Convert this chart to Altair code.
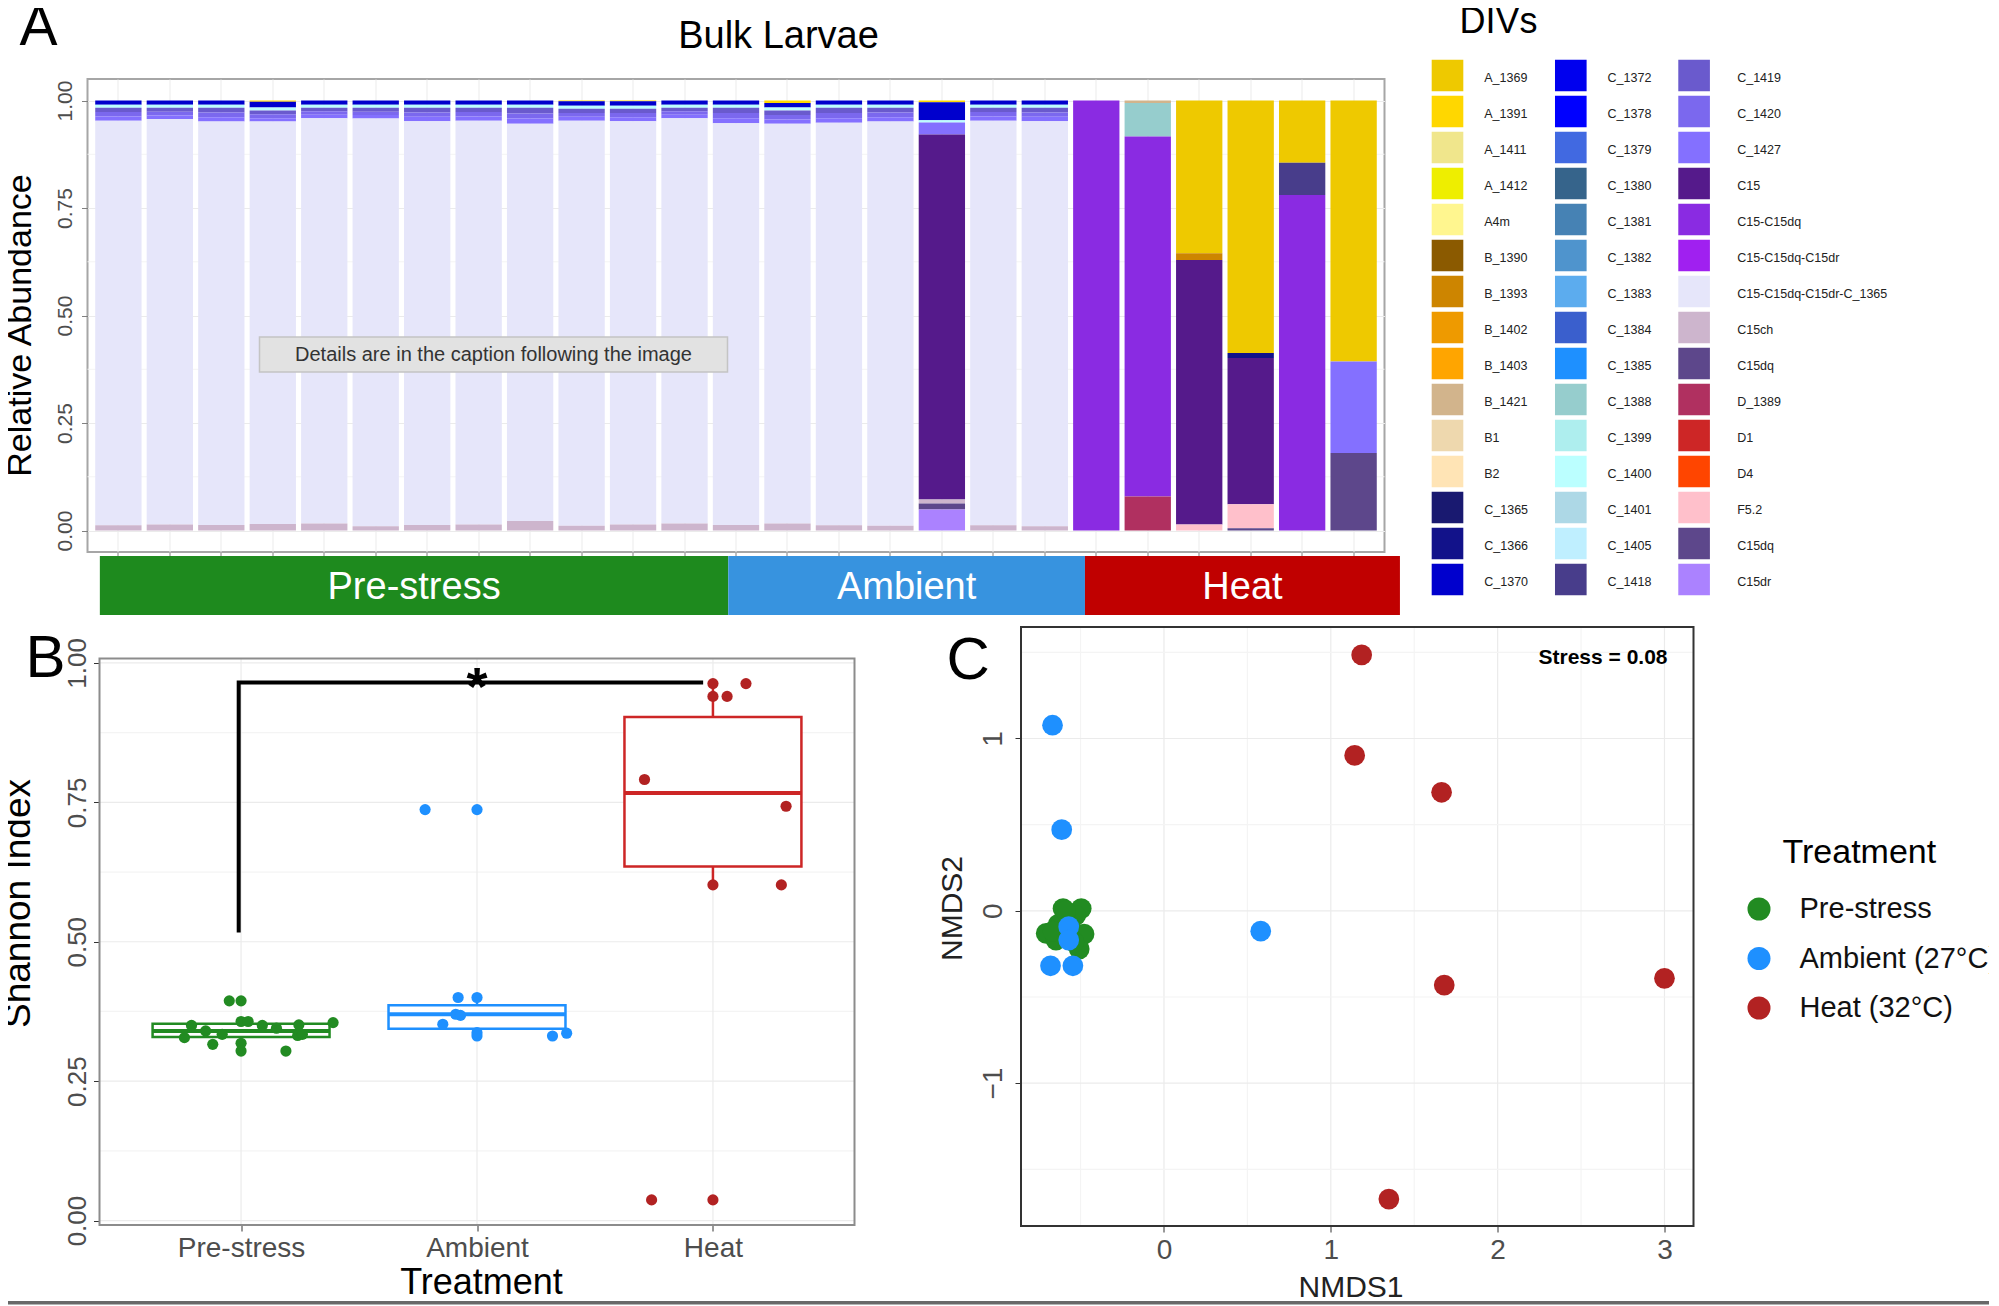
import altair as alt
import pandas as pd

FONT = "Liberation Sans"
GRID = "#EBEBEB"
MINOR = "#F4F4F4"
LABEL_GRAY = "#4D4D4D"

# ---------------- Panel A : DIV relative abundance, 25 bulk larvae samples ----------------
sample_ids = list(range(1, 26))

div_names = ["A_1369", "A_1391", "A_1411", "A_1412", "A4m", "B_1390", "B_1393", "B_1402", "B_1403",
             "B_1421", "B1", "B2", "C_1365", "C_1366", "C_1370",
             "C_1372", "C_1378", "C_1379", "C_1380", "C_1381", "C_1382", "C_1383", "C_1384", "C_1385",
             "C_1388", "C_1399", "C_1400", "C_1401", "C_1405", "C_1418",
             "C_1419", "C_1420", "C_1427", "C15", "C15-C15dq", "C15-C15dq-C15dr", "C15-C15dq-C15dr-C_1365",
             "C15ch", "C15dq", "D_1389", "D1", "D4", "F5.2", "C15dq", "C15dr"]
div_colors = ["#EEC900", "#FFD700", "#F0E68C", "#EEEE00", "#FFF68F", "#8B5A00", "#CD8500", "#EE9A00", "#FFA500",
              "#D2B48C", "#EED8AE", "#FFE4B5", "#191970", "#12128A", "#0000CD",
              "#0000EE", "#0000FF", "#4169E1", "#36648B", "#4682B4", "#4F94CD", "#5CACEE", "#3A5FCD", "#1E90FF",
              "#96CDCD", "#AEEEEE", "#BBFFFF", "#ADD8E6", "#BFEFFF", "#483D8B",
              "#6A5ACD", "#7B68EE", "#8470FF", "#551A8B", "#8A2BE2", "#A020F0", "#E6E6FA",
              "#CDB5CD", "#5D478B", "#B03060", "#CD2626", "#FF4500", "#FFC0CB", "#5D478B", "#AB82FF"]

A_1369 = [0, 0, 0, 0, 0, 0, 0, 0, 0, 0, 0, 0, 0, 0, 0, 0, 0, 0, 0, 0, 0, 0.355, 0.587, 0.145, 0.607]
A_1391 = [0, 0, 0, 0.003, 0, 0, 0, 0, 0, 0.002, 0.002, 0, 0, 0.006, 0, 0, 0.004, 0, 0, 0, 0, 0, 0, 0, 0]
B_1393 = [0, 0, 0, 0, 0, 0, 0, 0, 0, 0, 0, 0, 0, 0, 0, 0, 0, 0, 0, 0, 0, 0.016, 0, 0, 0]
B_1421 = [0, 0, 0, 0, 0, 0, 0, 0, 0, 0, 0, 0, 0, 0, 0, 0, 0, 0, 0, 0, 0.006, 0, 0, 0, 0]
C_1366 = [0, 0, 0, 0, 0, 0, 0, 0, 0, 0, 0, 0, 0, 0, 0, 0, 0, 0, 0, 0, 0, 0, 0.012, 0, 0]
C_1370 = [0.010, 0.010, 0.010, 0.013, 0.010, 0.010, 0.010, 0.010, 0.010, 0.010, 0.010, 0.010, 0.010,
          0.010, 0.010, 0.010, 0.042, 0.010, 0.010, 0, 0, 0, 0, 0, 0]
C_1388 = [0, 0, 0, 0, 0, 0, 0, 0, 0, 0, 0, 0, 0, 0, 0, 0, 0, 0, 0, 0, 0.078, 0, 0, 0, 0]
C_1400 = [0.007, 0.007, 0.007, 0.007, 0.007, 0.007, 0.007, 0.007, 0.007, 0.007, 0.007, 0.007, 0.007,
          0.007, 0.007, 0.007, 0.005, 0.007, 0.007, 0, 0, 0, 0, 0, 0]
C_1418 = [0, 0, 0, 0, 0, 0, 0, 0, 0, 0, 0, 0, 0, 0, 0, 0, 0, 0, 0, 0, 0, 0, 0, 0.075, 0]
C_1419 = [0.010, 0.009, 0.011, 0.009, 0.008, 0.009, 0.011, 0.010, 0.013, 0.010, 0.010, 0.008, 0.012,
          0.011, 0.012, 0.011, 0, 0.010, 0.011, 0, 0, 0, 0, 0, 0]
C_1420 = [0.010, 0.009, 0.011, 0.009, 0.008, 0.008, 0.010, 0.010, 0.012, 0.009, 0.010, 0.008, 0.012,
          0.010, 0.012, 0.011, 0, 0.010, 0.010, 0, 0, 0, 0, 0, 0]
C_1427 = [0.010, 0.008, 0.010, 0.008, 0.008, 0.008, 0.010, 0.010, 0.012, 0.009, 0.009, 0.008, 0.012,
          0.010, 0.011, 0.010, 0.028, 0.010, 0.010, 0, 0, 0, 0, 0, 0.213]
C15 = [0, 0, 0, 0, 0, 0, 0, 0, 0, 0, 0, 0, 0, 0, 0, 0, 0.849, 0, 0, 0, 0, 0.615, 0.340, 0, 0]
C15_C15dq = [0, 0, 0, 0, 0, 0, 0, 0, 0, 0, 0, 0, 0, 0, 0, 0, 0, 0, 0, 1.0, 0.837, 0, 0, 0.780, 0]
C15_C15dq_C15dr_C_1365 = [0.941, 0.943, 0.938, 0.936, 0.943, 0.948, 0.939, 0.939, 0.924, 0.942, 0.938,
                          0.943, 0.934, 0.930, 0.936, 0.940, 0, 0.941, 0.942, 0, 0, 0, 0, 0, 0]
C15ch = [0.012, 0.014, 0.013, 0.015, 0.016, 0.010, 0.013, 0.014, 0.022, 0.011, 0.014, 0.016, 0.013,
         0.016, 0.012, 0.011, 0.009, 0.012, 0.010, 0, 0, 0, 0, 0, 0]
C15dq = [0, 0, 0, 0, 0, 0, 0, 0, 0, 0, 0, 0, 0, 0, 0, 0, 0.014, 0, 0, 0, 0, 0, 0, 0, 0.180]
D_1389 = [0, 0, 0, 0, 0, 0, 0, 0, 0, 0, 0, 0, 0, 0, 0, 0, 0, 0, 0, 0, 0.079, 0, 0, 0, 0]
F5_2 = [0, 0, 0, 0, 0, 0, 0, 0, 0, 0, 0, 0, 0, 0, 0, 0, 0, 0, 0, 0, 0, 0.014, 0.056, 0, 0]
C15dq_2 = [0, 0, 0, 0, 0, 0, 0, 0, 0, 0, 0, 0, 0, 0, 0, 0, 0, 0, 0, 0, 0, 0, 0.005, 0, 0]
C15dr = [0, 0, 0, 0, 0, 0, 0, 0, 0, 0, 0, 0, 0, 0, 0, 0, 0.049, 0, 0, 0, 0, 0, 0, 0, 0]

# (legend index, values)
series = [(0, A_1369), (1, A_1391), (6, B_1393), (9, B_1421), (13, C_1366), (14, C_1370), (24, C_1388),
          (26, C_1400), (29, C_1418), (30, C_1419), (31, C_1420), (32, C_1427), (33, C15), (34, C15_C15dq),
          (36, C15_C15dq_C15dr_C_1365), (37, C15ch), (38, C15dq), (39, D_1389), (42, F5_2), (43, C15dq_2),
          (44, C15dr)]

treat_band = ["Pre-stress", "Ambient", "Heat"]
band_start = [0.64, 12.85, 19.78]
band_end = [12.85, 19.78, 25.9]
band_colors = ["#1E8A1E", "#3793DF", "#C00000"]

# ---------------- Panel B : Shannon index ----------------
shannon_groups = ["Pre-stress", "Ambient", "Heat"]
pre_x = [0.95, 1.00, 0.79, 1.09, 1.245, 1.39, 1.00, 1.03, 0.92, 0.76, 1.24, 1.26, 0.88, 1.00, 1.00, 1.19, 1.15, 0.85]
pre_y = [0.394, 0.394, 0.350, 0.350, 0.351, 0.355, 0.357, 0.357, 0.334, 0.328, 0.332, 0.334, 0.316, 0.318,
         0.304, 0.304, 0.345, 0.340]
amb_x = [1.78, 2.00, 1.92, 2.00, 1.855, 1.91, 1.93, 2.00, 2.00, 2.32, 2.38]
amb_y = [0.737, 0.737, 0.400, 0.400, 0.352, 0.370, 0.368, 0.331, 0.337, 0.331, 0.336]
heat_x = [3.00, 3.14, 3.00, 3.06, 2.71, 3.31, 3.00, 3.29, 2.74, 3.00]
heat_y = [0.963, 0.963, 0.940, 0.940, 0.791, 0.743, 0.602, 0.602, 0.037, 0.037]
box_pos = [1, 2, 3]
box_lo = [0.316, 0.331, 0.602]
box_q1 = [0.329, 0.344, 0.635]
box_med = [0.340, 0.370, 0.767]
box_q3 = [0.353, 0.386, 0.903]
box_hi = [0.357, 0.400, 0.963]
box_colors = ["#228B22", "#1E90FF", "#CD2626"]
pt_colors_b = ["#228B22", "#1E90FF", "#B22222"]
bracket_x = [0.99, 0.99, 2.95]
bracket_y = [0.52, 0.965, 0.965]
b_xlim = [0.4, 3.6]
b_ylim = [-0.008, 1.008]
b_yticks = [0, 0.25, 0.5, 0.75, 1.0]
b_yminor = [0.125, 0.375, 0.625, 0.875]

# ---------------- Panel C : NMDS ----------------
nmds_groups = ["Pre-stress", "Ambient (27°C)", "Heat (32°C)"]
nmds_colors = ["#228B22", "#1E90FF", "#B22222"]
pre_n1 = [-0.605, -0.496, -0.706, -0.647, -0.479, -0.508, -0.571, -0.634, -0.529, -0.665, -0.540, -0.590]
pre_n2 = [0.013, 0.013, -0.131, -0.170, -0.135, -0.222, -0.040, -0.078, -0.027, -0.118, -0.180, 0.000]
amb_n1 = [-0.668, -0.613, 0.580, -0.680, -0.546, -0.571, -0.571]
amb_n2 = [1.077, 0.471, -0.118, -0.319, -0.319, -0.092, -0.170]
heat_n1 = [1.185, 1.143, 1.664, 1.680, 3.000, 1.348]
heat_n2 = [1.485, 0.902, 0.688, -0.431, -0.392, -1.673]
c_xlim = [-0.857, 3.174]
c_ylim = [-1.829, 1.647]
c_xticks = [0, 1, 2, 3]
c_xminor = [-0.5, 0.5, 1.5, 2.5]
c_yticks = [-1, 0, 1]
c_yminor = [-1.5, -0.5, 0.5, 1.5]

one = pd.DataFrame({"k": [0]})


def label(text, x, y, size, weight="normal", align="left", baseline="alphabetic", color="black"):
    return alt.Chart(one).mark_text(text=text, fontSize=size, fontWeight=weight, align=align,
                                    baseline=baseline, color=color, font=FONT).encode(
        x=alt.value(x), y=alt.value(y))


# layout helpers: a linear scale over `total` px on which value v0 falls at pixel p0 (ppu px per unit)
def dom_from_left(v0, p0, ppu, total):
    d0 = v0 - p0 / ppu
    return [d0, d0 + total / ppu]


def dom_from_top(v0, p0, ppu, total):
    d0 = v0 - (total - p0) / ppu
    return [d0, d0 + total / ppu]


def lin(domain, reverse=False):
    if reverse:
        return alt.Scale(domain=domain, nice=False, zero=False, reverse=True)
    return alt.Scale(domain=domain, nice=False, zero=False)


# ================= ROW 1 : panel A + DIV legend (plot area 1297 x 473) =================
A_W, A_H = 1297, 473
rowsA = []
for idx, vals in series:
    for s, v in zip(sample_ids, vals):
        if v > 0:
            rowsA.append({"sample": s, "div": div_names[idx], "value": v, "idx": idx})
dfA = pd.DataFrame(rowsA)

dom, rng = [], []
for n, c in zip(div_names, div_colors):
    if n not in dom:
        dom.append(n)
        rng.append(c)

yA_scale = lin([-0.05, 1.05])
yA_axis = alt.Axis(values=[0, 0.25, 0.5, 0.75, 1.0], format=".2f", labelAngle=270, labelAlign="center",
                   labelBaseline="bottom", labelFontSize=21, labelColor=LABEL_GRAY, labelPadding=6,
                   labelFlush=False, tickSize=6, tickColor="#808080", domain=False, grid=True,
                   gridColor=GRID, title="Relative Abundance", titleFontSize=34, titleFontWeight="normal",
                   titleColor="black", titleBaseline="alphabetic", titleX=-57, titleY=246, orient="left")

minorA = alt.Chart(pd.DataFrame({"value": [0.125, 0.375, 0.625, 0.875]})).mark_rule(
    color=MINOR, strokeWidth=1).encode(y=alt.Y("value:Q", scale=yA_scale, axis=None))

barsA = alt.Chart(dfA).mark_bar(strokeWidth=0).encode(
    x=alt.X("sample:O", scale=alt.Scale(paddingInner=0.1, paddingOuter=0.15),
            axis=alt.Axis(labels=False, title=None, ticks=True, tickSize=6, tickColor="#808080",
                          domain=False, grid=True, gridColor=GRID, orient="bottom")),
    y=alt.Y("value:Q", stack="zero", scale=yA_scale, axis=yA_axis),
    color=alt.Color("div:N", scale=alt.Scale(domain=dom, range=rng), legend=None),
    order=alt.Order("idx:Q", sort="descending"),
)

dfBand = pd.DataFrame({"label": treat_band, "start": band_start, "end": band_end, "color": band_colors})
bandScale = lin([0.4, 25.6])
bandRect = alt.Chart(dfBand).mark_rect().encode(
    x=alt.X("start:Q", scale=bandScale, axis=None), x2="end:Q",
    y=alt.value(477), y2=alt.value(536),
    color=alt.Color("color:N", scale=None))
bandText = alt.Chart(dfBand).transform_calculate(mid="(datum.start + datum.end) / 2").mark_text(
    color="white", fontSize=38, baseline="middle", font=FONT).encode(
    x=alt.X("mid:Q", scale=bandScale, axis=None), y=alt.value(509), text="label:N")

tipBox = alt.Chart(one).mark_rect(fill="#E2E2E2", stroke="#C4C4C4", strokeWidth=1.5).encode(
    x=alt.value(172), x2=alt.value(640), y=alt.value(258), y2=alt.value(293))
tipText = label("Details are in the caption following the image", 406, 276, 20, align="center",
                baseline="middle", color="#333333")

# DIV legend, placed to the right of panel A
dfLeg = pd.DataFrame({"name": div_names, "color": div_colors})
dfLeg["col"] = [i // 15 for i in range(len(div_names))]
dfLeg["row"] = [i % 15 for i in range(len(div_names))]
legXscale = lin(dom_from_left(0, 1344, 123.3, A_W))
legY = alt.Y("row:Q", scale=lin(dom_from_left(0, -3.5, 36, A_H), reverse=True), axis=None)
legSq = alt.Chart(dfLeg).mark_square(size=1000, opacity=1, xOffset=16).encode(
    x=alt.X("col:Q", scale=legXscale, axis=None), y=legY, color=alt.Color("color:N", scale=None))
legTx = alt.Chart(dfLeg).transform_calculate(
    lx="datum.col + (datum.col == 2 ? 0.479 : 0.428)").mark_text(
    align="left", baseline="middle", dy=2, fontSize=12.5, color="#222222", font=FONT).encode(
    x=alt.X("lx:Q", scale=legXscale, axis=None), y=legY, text="name:N")

row1 = alt.layer(
    minorA, barsA, bandRect, bandText,
    label("A", -68, -34, 57),
    label("Bulk Larvae", 691, -31, 38, align="center"),
    tipBox, tipText,
    legSq, legTx, label("DIVs", 1372, -46, 36),
).resolve_scale(x="independent", y="independent").properties(
    width=A_W, height=A_H, view=alt.ViewBackground(stroke="#A6A6A6", strokeWidth=2))

# ================= ROW 2 : panel B + panel C + treatment legend (plot area 1606 x 599) =================
R2_W, R2_H = 1606, 599

# ---- panel B (frame at x 12..767, y 31.5..598 inside the row) ----
xB_scale = lin(dom_from_left(b_xlim[0], 12, 755 / (b_xlim[1] - b_xlim[0]), R2_W))
yB_scale = lin(dom_from_top(b_ylim[0], 598, 566.5 / (b_ylim[1] - b_ylim[0]), R2_H))
label_expr = "['', '%s', '%s', '%s'][datum.value]" % tuple(shannon_groups)
xB_axis = alt.Axis(values=box_pos, labelExpr=label_expr, labelFontSize=28, labelColor=LABEL_GRAY,
                   labelPadding=3, labelFlush=False, tickSize=6, tickColor="#333333", domain=False,
                   grid=False, title="Treatment", titleFontSize=36, orient="bottom", offset=-1,
                   titleFontWeight="normal", titleColor="black", titleBaseline="alphabetic",
                   titleX=393.5, titleY=68)
yB_axis = alt.Axis(values=b_yticks, format=".2f", labelAngle=270, labelAlign="center",
                   labelBaseline="bottom", labelFontSize=26, labelColor=LABEL_GRAY, labelPadding=3,
                   labelFlush=False, tickSize=6, tickColor="#333333", domain=False, grid=False,
                   title="Shannon Index", titleFontSize=37, titleFontWeight="normal", orient="left",
                   offset=-12, titleColor="black", titleBaseline="alphabetic", titleX=-70, titleY=276)


def XB(f, axis=None):
    return alt.X(f, scale=xB_scale, axis=axis)


def YB(f, axis=None):
    return alt.Y(f, scale=yB_scale, axis=axis)


hgridB = alt.Chart(pd.DataFrame({"y": b_yticks + b_yminor,
                                 "g": [GRID] * len(b_yticks) + [MINOR] * len(b_yminor),
                                 "x0": b_xlim[0], "x1": b_xlim[1]})).mark_rule(strokeWidth=1.2).encode(
    y=YB("y:Q"), x=XB("x0:Q"), x2="x1:Q", color=alt.Color("g:N", scale=None))
vgridB = alt.Chart(pd.DataFrame({"x": box_pos, "y0": b_ylim[0], "y1": b_ylim[1]})).mark_rule(
    color=GRID, strokeWidth=1.2).encode(x=XB("x:Q"), y=YB("y0:Q"), y2="y1:Q")
frameB = alt.Chart(pd.DataFrame({"x0": [b_xlim[0]], "x1": [b_xlim[1]], "y0": [b_ylim[0]], "y1": [b_ylim[1]]})).mark_rect(
    fillOpacity=0, stroke="#8C8C8C", strokeWidth=2).encode(x=XB("x0:Q"), x2="x1:Q", y=YB("y0:Q"), y2="y1:Q")
dfBox = pd.DataFrame({"pos": box_pos, "lo": box_lo, "q1": box_q1, "med": box_med, "q3": box_q3,
                      "hi": box_hi, "c": box_colors})
boxBase = alt.Chart(dfBox).transform_calculate(left="datum.pos - 0.375", right="datum.pos + 0.375")
whiskHi = boxBase.mark_rule(strokeWidth=2.5).encode(x=XB("pos:Q"), y=YB("q3:Q"), y2="hi:Q",
                                                   color=alt.Color("c:N", scale=None))
whiskLo = boxBase.mark_rule(strokeWidth=2.5).encode(x=XB("pos:Q"), y=YB("lo:Q"), y2="q1:Q",
                                                   color=alt.Color("c:N", scale=None))
boxRect = boxBase.mark_rect(fill="white", strokeWidth=2.5).encode(
    x=XB("left:Q"), x2="right:Q", y=YB("q1:Q"), y2="q3:Q", stroke=alt.Stroke("c:N", scale=None))
boxMed = boxBase.mark_rule(strokeWidth=4).encode(x=XB("left:Q"), x2="right:Q", y=YB("med:Q"),
                                                color=alt.Color("c:N", scale=None))
dfPts = pd.DataFrame({
    "x": pre_x + amb_x + heat_x,
    "y": pre_y + amb_y + heat_y,
    "c": [pt_colors_b[0]] * len(pre_x) + [pt_colors_b[1]] * len(amb_x) + [pt_colors_b[2]] * len(heat_x),
})
ptsB = alt.Chart(dfPts).mark_circle(size=125, opacity=1).encode(
    x=XB("x:Q", xB_axis), y=YB("y:Q", yB_axis), color=alt.Color("c:N", scale=None))
dfBr = pd.DataFrame({"x": bracket_x, "y": bracket_y, "o": [0, 1, 2]})
bracket = alt.Chart(dfBr).mark_line(color="black", strokeWidth=4, strokeCap="square").encode(
    x=XB("x:Q"), y=YB("y:Q"), order="o:Q")
star = alt.Chart(pd.DataFrame({"x": [2.0], "y": [bracket_y[-1]]})).mark_text(
    text="*", fontSize=54, fontWeight="bold", baseline="alphabetic", dy=23, color="black", font=FONT).encode(
    x=XB("x:Q"), y=YB("y:Q"))

# ---- panel C (frame at x 933.5..1606, y 0..599 inside the row) ----
xC_scale = lin(dom_from_left(c_xlim[0], 933.5, 672.5 / (c_xlim[1] - c_xlim[0]), R2_W))
yC_scale = lin(c_ylim)
xC_axis = alt.Axis(values=c_xticks, format="d", labelFontSize=28, labelColor=LABEL_GRAY,
                   labelPadding=4, labelFlush=False, tickSize=6, tickColor="#333333", domain=False,
                   grid=False, title="NMDS1", titleFontSize=30, titleFontWeight="normal", orient="bottom",
                   titleColor="#222222", titleBaseline="alphabetic", titleX=1263, titleY=70)
yC_axis = alt.Axis(values=c_yticks, format="d", labelAngle=270, labelAlign="center",
                   labelBaseline="bottom", labelFontSize=28, labelColor=LABEL_GRAY, labelPadding=8,
                   labelFlush=False, tickSize=6, tickColor="#333333", domain=False, grid=False,
                   title="NMDS2", titleFontSize=30, titleFontWeight="normal", orient="left", offset=-933.5,
                   titleColor="#222222", titleBaseline="alphabetic", titleX=-60, titleY=281)


def XC(f, axis=None):
    return alt.X(f, scale=xC_scale, axis=axis)


def YC(f, axis=None):
    return alt.Y(f, scale=yC_scale, axis=axis)


vgridC = alt.Chart(pd.DataFrame({"x": c_xticks + c_xminor,
                                 "g": [GRID] * len(c_xticks) + [MINOR] * len(c_xminor),
                                 "y0": c_ylim[0], "y1": c_ylim[1]})).mark_rule(strokeWidth=1.2).encode(
    x=XC("x:Q"), y=YC("y0:Q"), y2="y1:Q", color=alt.Color("g:N", scale=None))
hgridC = alt.Chart(pd.DataFrame({"y": c_yticks + c_yminor,
                                 "g": [GRID] * len(c_yticks) + [MINOR] * len(c_yminor),
                                 "x0": c_xlim[0], "x1": c_xlim[1]})).mark_rule(strokeWidth=1.2).encode(
    y=YC("y:Q"), x=XC("x0:Q"), x2="x1:Q", color=alt.Color("g:N", scale=None))
frameC = alt.Chart(pd.DataFrame({"x0": [c_xlim[0]], "x1": [c_xlim[1]], "y0": [c_ylim[0]], "y1": [c_ylim[1]]})).mark_rect(
    fillOpacity=0, stroke="#333333", strokeWidth=2).encode(x=XC("x0:Q"), x2="x1:Q", y=YC("y0:Q"), y2="y1:Q")
dfC = pd.DataFrame({
    "x": pre_n1 + amb_n1 + heat_n1,
    "y": pre_n2 + amb_n2 + heat_n2,
    "c": [nmds_colors[0]] * len(pre_n1) + [nmds_colors[1]] * len(amb_n1) + [nmds_colors[2]] * len(heat_n1),
})
ptsC = alt.Chart(dfC).mark_circle(size=430, opacity=1).encode(
    x=XC("x:Q", xC_axis), y=YC("y:Q", yC_axis), color=alt.Color("c:N", scale=None))

# ---- treatment legend ----
dfT = pd.DataFrame({"name": nmds_groups, "c": nmds_colors, "i": [0, 1, 2]})
tY = alt.Y("i:Q", scale=lin(dom_from_left(0, 282, 49.5, R2_H), reverse=True), axis=None)
tDots = alt.Chart(dfT).mark_circle(size=530, opacity=1).encode(
    x=alt.value(1671.5), y=tY, color=alt.Color("c:N", scale=None))
tText = alt.Chart(dfT).mark_text(align="left", baseline="middle", fontSize=29, color="#111111", font=FONT).encode(
    x=alt.value(1712), y=tY, text="name:N")

# grey strip along the bottom edge of the figure
strip = alt.Chart(one).mark_rect(color="#686868").encode(
    x=alt.value(-87), x2=alt.value(1912), y=alt.value(674), y2=alt.value(677.5))

row2 = alt.layer(
    hgridB, vgridB, whiskHi, whiskLo, boxRect, boxMed, ptsB, bracket, star, frameB,
    label("B", -62, 50, 60),
    vgridC, hgridC, ptsC, frameC,
    label("Stress = 0.08", 1580, 30.5, 21, weight="bold", align="right", baseline="middle"),
    label("C", 859, 52, 60),
    tDots, tText, label("Treatment", 1695, 226, 34, baseline="middle"),
    strip,
).resolve_scale(x="independent", y="independent").properties(width=R2_W, height=R2_H)

chart = alt.vconcat(row1, row2, spacing=75, bounds="flush").properties(
    padding={"left": -8.5, "top": -10, "right": -11, "bottom": 0}).configure(
    font=FONT).configure_view(strokeWidth=0)

chart.save("out.html", embed_options={"renderer": "svg", "actions": False})
